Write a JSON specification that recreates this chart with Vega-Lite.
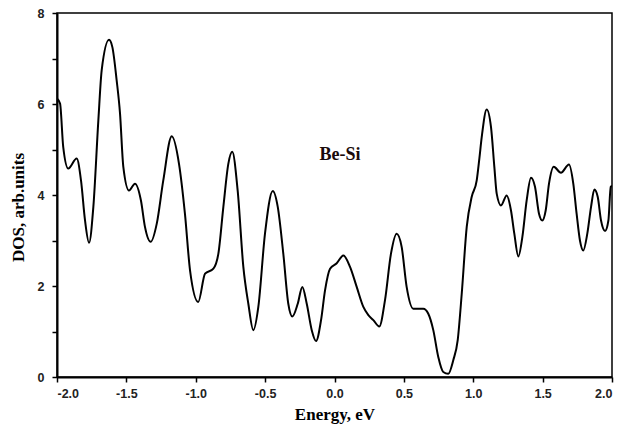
{
  "$schema": "https://vega.github.io/schema/vega-lite/v6.json",
  "autosize": {"type": "none"},
  "width": 555,
  "height": 364,
  "padding": {"left": 57, "top": 13, "right": 18, "bottom": 48},
  "background": "white",
  "config": {
    "view": {"stroke": "black", "strokeWidth": 1.5},
    "axis": {
      "domainColor": "black",
      "domainWidth": 2,
      "tickColor": "black",
      "tickWidth": 1.5,
      "tickSize": 5,
      "grid": false,
      "labelFont": "Liberation Sans",
      "labelFontWeight": "bold",
      "labelFontSize": 12.5,
      "labelColor": "#222222",
      "titleFont": "Liberation Serif",
      "titleFontWeight": "bold",
      "titleFontSize": 16,
      "titleColor": "black"
    }
  },
  "layer": [
    {
      "data": {
        "values": [
          {"e": -2.0, "dos": 6.12},
          {"e": -1.978, "dos": 6.01},
          {"e": -1.955, "dos": 5.05},
          {"e": -1.919, "dos": 4.58},
          {"e": -1.858, "dos": 4.8},
          {"e": -1.827, "dos": 4.32},
          {"e": -1.798, "dos": 3.44},
          {"e": -1.769, "dos": 2.95},
          {"e": -1.738, "dos": 3.74},
          {"e": -1.702, "dos": 5.64},
          {"e": -1.678, "dos": 6.74},
          {"e": -1.625, "dos": 7.41},
          {"e": -1.601, "dos": 7.25},
          {"e": -1.57, "dos": 6.52},
          {"e": -1.546, "dos": 5.8},
          {"e": -1.522, "dos": 4.62},
          {"e": -1.481, "dos": 4.1},
          {"e": -1.438, "dos": 4.25},
          {"e": -1.395, "dos": 3.88},
          {"e": -1.366, "dos": 3.3},
          {"e": -1.325, "dos": 2.97},
          {"e": -1.281, "dos": 3.37},
          {"e": -1.234, "dos": 4.32},
          {"e": -1.173, "dos": 5.29},
          {"e": -1.121, "dos": 4.69},
          {"e": -1.078, "dos": 3.59},
          {"e": -1.041, "dos": 2.34},
          {"e": -0.982, "dos": 1.65},
          {"e": -0.933, "dos": 2.27},
          {"e": -0.873, "dos": 2.38},
          {"e": -0.837, "dos": 2.71},
          {"e": -0.801, "dos": 3.74},
          {"e": -0.765, "dos": 4.69},
          {"e": -0.737, "dos": 4.95},
          {"e": -0.698, "dos": 4.1},
          {"e": -0.657, "dos": 2.42},
          {"e": -0.621, "dos": 1.61},
          {"e": -0.585, "dos": 1.03},
          {"e": -0.549, "dos": 1.54},
          {"e": -0.501, "dos": 3.15},
          {"e": -0.445, "dos": 4.09},
          {"e": -0.409, "dos": 3.74},
          {"e": -0.369, "dos": 2.71},
          {"e": -0.333, "dos": 1.61},
          {"e": -0.304, "dos": 1.33},
          {"e": -0.265, "dos": 1.61},
          {"e": -0.232, "dos": 1.98},
          {"e": -0.2, "dos": 1.61},
          {"e": -0.164, "dos": 1.03},
          {"e": -0.133, "dos": 0.79},
          {"e": -0.097, "dos": 1.25},
          {"e": -0.068, "dos": 1.91},
          {"e": -0.032, "dos": 2.38},
          {"e": 0.016, "dos": 2.5},
          {"e": 0.064, "dos": 2.67},
          {"e": 0.112, "dos": 2.42},
          {"e": 0.16, "dos": 1.98},
          {"e": 0.208, "dos": 1.54},
          {"e": 0.244, "dos": 1.36},
          {"e": 0.28, "dos": 1.25},
          {"e": 0.323, "dos": 1.11},
          {"e": 0.364, "dos": 1.69},
          {"e": 0.407, "dos": 2.71},
          {"e": 0.448, "dos": 3.15},
          {"e": 0.484, "dos": 2.86},
          {"e": 0.52, "dos": 1.98},
          {"e": 0.568, "dos": 1.5},
          {"e": 0.64, "dos": 1.5},
          {"e": 0.676, "dos": 1.39},
          {"e": 0.712, "dos": 1.03},
          {"e": 0.748, "dos": 0.44},
          {"e": 0.784, "dos": 0.11},
          {"e": 0.82, "dos": 0.07},
          {"e": 0.856, "dos": 0.37},
          {"e": 0.888, "dos": 0.81},
          {"e": 0.917, "dos": 1.83},
          {"e": 0.953, "dos": 3.3},
          {"e": 0.989, "dos": 3.96},
          {"e": 1.025, "dos": 4.32},
          {"e": 1.044, "dos": 4.8},
          {"e": 1.061, "dos": 5.27},
          {"e": 1.097, "dos": 5.88},
          {"e": 1.128, "dos": 5.49},
          {"e": 1.152, "dos": 4.62},
          {"e": 1.169, "dos": 4.03},
          {"e": 1.2, "dos": 3.77},
          {"e": 1.241, "dos": 3.99},
          {"e": 1.272, "dos": 3.66},
          {"e": 1.296, "dos": 3.15},
          {"e": 1.325, "dos": 2.65},
          {"e": 1.354, "dos": 3.08},
          {"e": 1.385, "dos": 3.88},
          {"e": 1.416, "dos": 4.38},
          {"e": 1.445, "dos": 4.18},
          {"e": 1.474, "dos": 3.59},
          {"e": 1.498, "dos": 3.44},
          {"e": 1.522, "dos": 3.66},
          {"e": 1.546, "dos": 4.25},
          {"e": 1.58, "dos": 4.62},
          {"e": 1.632, "dos": 4.49},
          {"e": 1.69, "dos": 4.67},
          {"e": 1.721, "dos": 4.25},
          {"e": 1.745, "dos": 3.59},
          {"e": 1.769, "dos": 3.0},
          {"e": 1.793, "dos": 2.78},
          {"e": 1.822, "dos": 3.15},
          {"e": 1.849, "dos": 3.74},
          {"e": 1.873, "dos": 4.12},
          {"e": 1.897, "dos": 3.96},
          {"e": 1.921, "dos": 3.44},
          {"e": 1.95, "dos": 3.21},
          {"e": 1.974, "dos": 3.44},
          {"e": 1.991, "dos": 4.18},
          {"e": 2.0, "dos": 4.2}
        ]
      },
      "mark": {"type": "line", "color": "black", "strokeWidth": 2, "interpolate": "monotone", "clip": true},
      "encoding": {
        "x": {
          "field": "e",
          "type": "quantitative",
          "scale": {"domain": [-2, 2], "nice": false, "zero": false},
          "axis": {
            "title": "Energy, eV",
            "titleFontSize": 17,
            "values": [-2, -1.75, -1.5, -1.25, -1, -0.75, -0.5, -0.25, 0, 0.25, 0.5, 0.75, 1, 1.25, 1.5, 1.75, 2],
            "labelExpr": "datum.value % 0.5 == 0 ? replace(format(datum.value, '.1f'), '\u2212', '-') : ''",
            "labelPadding": 5,
            "titlePadding": 7
          }
        },
        "y": {
          "field": "dos",
          "type": "quantitative",
          "scale": {"domain": [0, 8], "nice": false},
          "axis": {
            "title": "DOS, arb.units",
            "titleFontSize": 17,
            "titleY": 194,
            "values": [0, 1, 2, 3, 4, 5, 6, 7, 8],
            "labelExpr": "datum.value % 2 == 0 ? datum.label : ''",
            "labelPadding": 8,
            "titlePadding": 10
          }
        }
      }
    },
    {
      "data": {"values": [{"e": 0.04, "dos": 4.87, "label": "Be-Si"}]},
      "mark": {"type": "text", "font": "Liberation Serif", "fontWeight": "bold", "fontSize": 18, "color": "#1a0a0a", "align": "center", "baseline": "middle"},
      "encoding": {
        "x": {"field": "e", "type": "quantitative"},
        "y": {"field": "dos", "type": "quantitative"},
        "text": {"field": "label"}
      }
    }
  ]
}
